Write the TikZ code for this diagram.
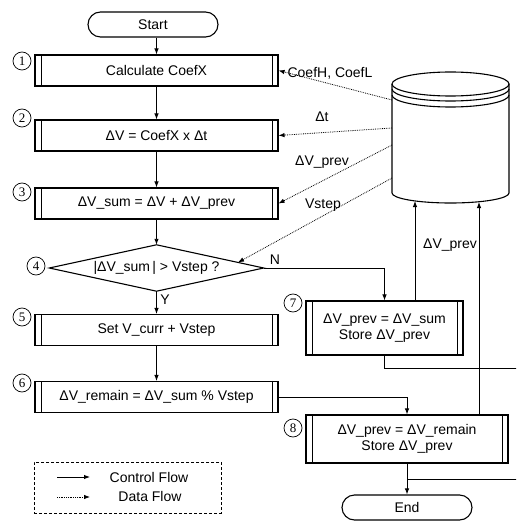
\documentclass[tikz,border=0pt]{standalone}
\usepackage{fontspec}
\setmainfont{Liberation Sans}
\newfontfamily\numfont{Liberation Serif}
\usetikzlibrary{arrows.meta,calc}
\begin{document}
\begin{tikzpicture}[x=1pt,y=-1pt,
  every node/.style={font=\fontsize{14}{15.5}\selectfont},
  proc/.style={draw, line width=1.1pt, inner sep=0pt, align=center,
    path picture={\draw[line width=0.8pt]
      ([xshift=6pt]path picture bounding box.north west) -- ([xshift=6pt]path picture bounding box.south west)
      ([xshift=-6pt]path picture bounding box.north east) -- ([xshift=-6pt]path picture bounding box.south east);}},
  lproc/.style={proc, minimum width=243pt, minimum height=31pt},
  term/.style={draw, line width=1.1pt, rounded corners=12.5pt, minimum width=130pt, minimum height=25pt, inner sep=0pt},
  flow/.style={line width=0.9pt, -{Latex[length=6pt,width=4.5pt]}},
  data/.style={line width=0.8pt, densely dotted, -{Latex[length=6pt,width=4.5pt]}},
  num/.style={circle, draw, line width=0.7pt, inner sep=0pt, minimum size=18pt, font=\numfont\fontsize{13}{13}\selectfont},
  lbl/.style={inner sep=1pt}
]
\useasboundingbox (0,0) rectangle (516,521);
\clip (0,0) rectangle (516,521);

% flowchart nodes
\node[term] (start) at (153,24.5) {Start};
\node[lproc] (b1) at (156.5,70.5) {Calculate CoefX};
\node[lproc] (b2) at (156.5,135.5) {ΔV = CoefX x Δt};
\node[lproc] (b3) at (156.5,203.5) {ΔV\_sum = ΔV + ΔV\_prev};
\node[minimum width=214pt, minimum height=46pt, inner sep=0pt] (dia) at (156.5,268) {|ΔV\_sum\,| > Vstep ?};
\draw[line width=1.1pt] (dia.north) -- (dia.east) -- (dia.south) -- (dia.west) -- cycle;
\node[lproc] (b5) at (156.5,330) {Set V\_curr + Vstep};
\node[lproc] (b6) at (156.5,397) {ΔV\_remain = ΔV\_sum \% Vstep};
\node[proc, minimum width=157pt, minimum height=54pt] (b7) at (384.5,328) {ΔV\_prev = ΔV\_sum\\Store ΔV\_prev};
\node[proc, minimum width=202pt, minimum height=48pt] (b8) at (407,439) {ΔV\_prev = ΔV\_remain\\Store ΔV\_prev};
\node[term] (end) at (407,507.5) {End};

% step numbers
\node[num] (n1) at (22,61) {1};
\node[num] (n2) at (22,118) {2};
\node[num] (n3) at (22,192) {3};
\node[num] (n4) at (36,266) {4};
\node[num] (n5) at (22,317) {5};
\node[num] (n6) at (22,383) {6};
\node[num] (n7) at (293,303) {7};
\node[num] (n8) at (293,428) {8};

% database cylinder
\draw[line width=1.1pt] (450.5,84) ellipse [x radius=58.5pt, y radius=12pt];
\draw[line width=1.1pt] (392,89) arc[start angle=180, end angle=360, x radius=58.5pt, y radius=12pt];
\draw[line width=1.1pt] (392,95) arc[start angle=180, end angle=360, x radius=58.5pt, y radius=12pt];
\draw[line width=1.1pt] (392,84) -- (392,193) arc[start angle=180, end angle=360, x radius=58.5pt, y radius=10pt] -- (509,84);
\coordinate (db1) at (392,100);
\coordinate (db2) at (392,128);
\coordinate (db3) at (392,145);
\coordinate (db4) at (392,178);
\coordinate (dbb1) at (415,201);
\coordinate (dbb2) at (479,202);

% control flow
\draw[flow] (b1.north |- start.south) -- (b1.north);
\draw[flow] (b1.south) -- (b2.north);
\draw[flow] (b2.south) -- (b3.north);
\draw[flow] (b3.south) -- (dia.north);
\draw[flow] (dia.south) -- (b5.north);
\draw[flow] (b5.south) -- (b6.north);
\draw[flow] (dia.east) -| (b7.north);
\draw[flow] (b6.east) -| (b8.north);
\draw[flow] (b8.south) -- (end.north);
\coordinate (r1) at (530,368);
\coordinate (r2) at (530,479);
\coordinate (m8) at (407,479);
\draw[line width=0.9pt] (b7.south) |- (r1) -- (r2) -- (m8);
\draw[flow] (b7.north -| dbb1) -- (dbb1);
\draw[flow] (b8.north -| dbb2) -- (dbb2);

% data flow
\draw[data] (db1) -- (b1.east);
\draw[data] (db2) -- (b2.east);
\draw[data] (db3) -- (b3.east);
\draw[data] (db4) -- ($(dia.north)!0.76!(dia.east)$);

% labels
\node[lbl] (l1) at (330,73) {CoefH, CoefL};
\node[lbl] (l2) at (322,117) {Δt};
\node[lbl] (l3) at (322,162) {ΔV\_prev};
\node[lbl] (l4) at (323,205) {Vstep};
\node[lbl] (l5) at (450,245) {ΔV\_prev};
\node[lbl] (ln) at (275,260) {N};
\node[lbl] (ly) at (165,300) {Y};

% legend
\node[draw, line width=0.8pt, dash pattern=on 3pt off 2pt, minimum width=187pt, minimum height=51pt, inner sep=0pt] (leg) at (127.5,487.5) {};
\node (lc) at (149,477) {Control Flow};
\node (ld) at (150,496) {Data Flow};
\coordinate (lc1) at (57,477);
\coordinate (lc2) at (90,477);
\coordinate (ld1) at (57,497);
\coordinate (ld2) at (90,497);
\draw[flow] (lc1) -- (lc2);
\draw[data] (ld1) -- (ld2);
\end{tikzpicture}
\end{document}
